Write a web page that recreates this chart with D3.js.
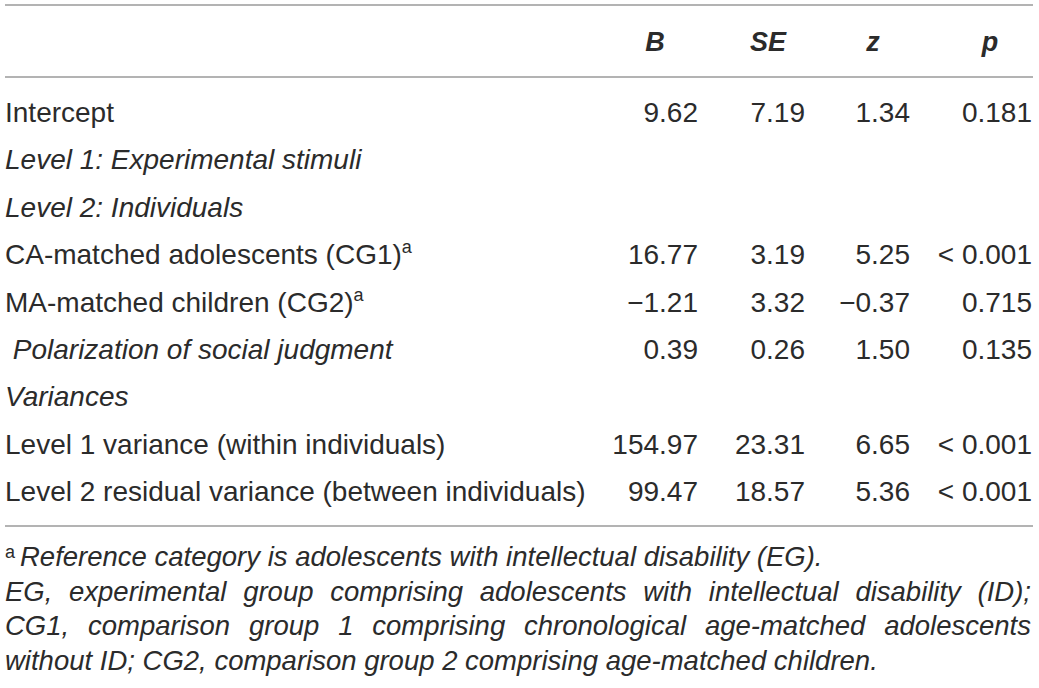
<!DOCTYPE html>
<html>
<head>
<meta charset="utf-8">
<script src="https://cdn.jsdelivr.net/npm/d3@7"></script>
<style>
  body { margin: 0; background: #fff; }
  text { font-family: "Liberation Sans", Arial, sans-serif; fill: #2b2b2b; }
</style>
</head>
<body>
<svg id="table" width="1039" height="688"></svg>
<script>
let width = 1039,
  height = 688

// table content
let headers = ["B", "SE", "z", "p"]
let rowLabels = [
  "Intercept",
  "Level 1: Experimental stimuli",
  "Level 2: Individuals",
  "CA-matched adolescents (CG1)",
  "MA-matched children (CG2)",
  " Polarization of social judgment",
  "Variances",
  "Level 1 variance (within individuals)",
  "Level 2 residual variance (between individuals)"
]
let supRows = [3, 4]
let italicRows = [1, 2, 5, 6]
let colB = ["9.62", "", "", "16.77", "\u22121.21", "0.39", "", "154.97", "99.47"]
let colSE = ["7.19", "", "", "3.19", "3.32", "0.26", "", "23.31", "18.57"]
let colZ = ["1.34", "", "", "5.25", "\u22120.37", "1.50", "", "6.65", "5.36"]
let colP = ["0.181", "", "", "< 0.001", "0.715", "0.135", "", "< 0.001", "< 0.001"]
let footnotes = [
  "Reference category is adolescents with intellectual disability (EG).",
  "EG, experimental group comprising adolescents with intellectual disability (ID);",
  "CG1, comparison group 1 comprising chronological age-matched adolescents",
  "without ID; CG2, comparison group 2 comprising age-matched children."
]
let justified = [false, true, true, false]

let columns = [colB, colSE, colZ, colP]

let scales = {
  row: d3.scalePoint().domain(d3.range(rowLabels.length)).range([122, 501]),
  colRight: d3.scaleOrdinal().domain(headers).range([698, 805, 910, 1032]),
  colHead: d3.scaleOrdinal().domain(headers).range([655, 768, 873, 990]),
  note: d3.scalePoint().domain(d3.range(footnotes.length)).range([566, 670])
}

let svg = d3.select("#table")

// rules
svg.selectAll("line.rule")
  .data([5, 77, 526]).enter()
  .append("line")
  .attr("class", "rule")
  .attr("x1", 5).attr("x2", 1033)
  .attr("y1", d => d).attr("y2", d => d)
  .attr("stroke", "#9a9a9a")
  .attr("stroke-width", 1.6)

// header
svg.selectAll("text.head")
  .data(headers).enter()
  .append("text")
  .attr("class", "head")
  .attr("x", d => scales.colHead(d))
  .attr("y", 51)
  .attr("text-anchor", "middle")
  .style("font-size", "27px")
  .style("font-weight", "bold")
  .style("font-style", "italic")
  .text(d => d)

// row labels
let labels = svg.selectAll("text.label")
  .data(rowLabels).enter()
  .append("text")
  .attr("class", "label")
  .attr("x", 5)
  .attr("y", (d, i) => scales.row(i))
  .style("font-size", "28px")
  .style("font-style", (d, i) => italicRows.includes(i) ? "italic" : "normal")
  .attr("xml:space", "preserve")

labels.append("tspan").text(d => d)
labels.filter((d, i) => supRows.includes(i))
  .append("tspan")
  .attr("dy", -11)
  .style("font-size", "18px")
  .text("a")

// values
columns.forEach((col, c) => {
  svg.selectAll("text.col" + c)
    .data(col).enter()
    .append("text")
    .attr("class", "col" + c)
    .attr("x", scales.colRight(headers[c]))
    .attr("y", (d, i) => scales.row(i))
    .attr("text-anchor", "end")
    .style("font-size", "28px")
    .text(d => d)
})

// footnotes
svg.append("text")
  .attr("x", 5)
  .attr("y", scales.note(0) - 8)
  .style("font-size", "18px")
  .text("a")

footnotes.forEach((line, i) => {
  let x0 = i == 0 ? 20 : 5
  let y = scales.note(i)
  let g = svg.append("g")
  if (!justified[i]) {
    g.append("text")
      .attr("x", x0).attr("y", y)
      .style("font-size", "27.5px")
      .style("font-style", "italic")
      .text(line)
    return
  }
  let words = line.split(" ")
  let nodes = g.selectAll("text")
    .data(words).enter()
    .append("text")
    .attr("y", y)
    .style("font-size", "27.5px")
    .style("font-style", "italic")
    .text(d => d)
  let widths = nodes.nodes().map(n => n.getComputedTextLength())
  let gap = (1031 - x0 - d3.sum(widths)) / (words.length - 1)
  let x = x0
  nodes.attr("x", (d, k) => {
    let pos = x
    x += widths[k] + gap
    return pos
  })
})
</script>
</body>
</html>
